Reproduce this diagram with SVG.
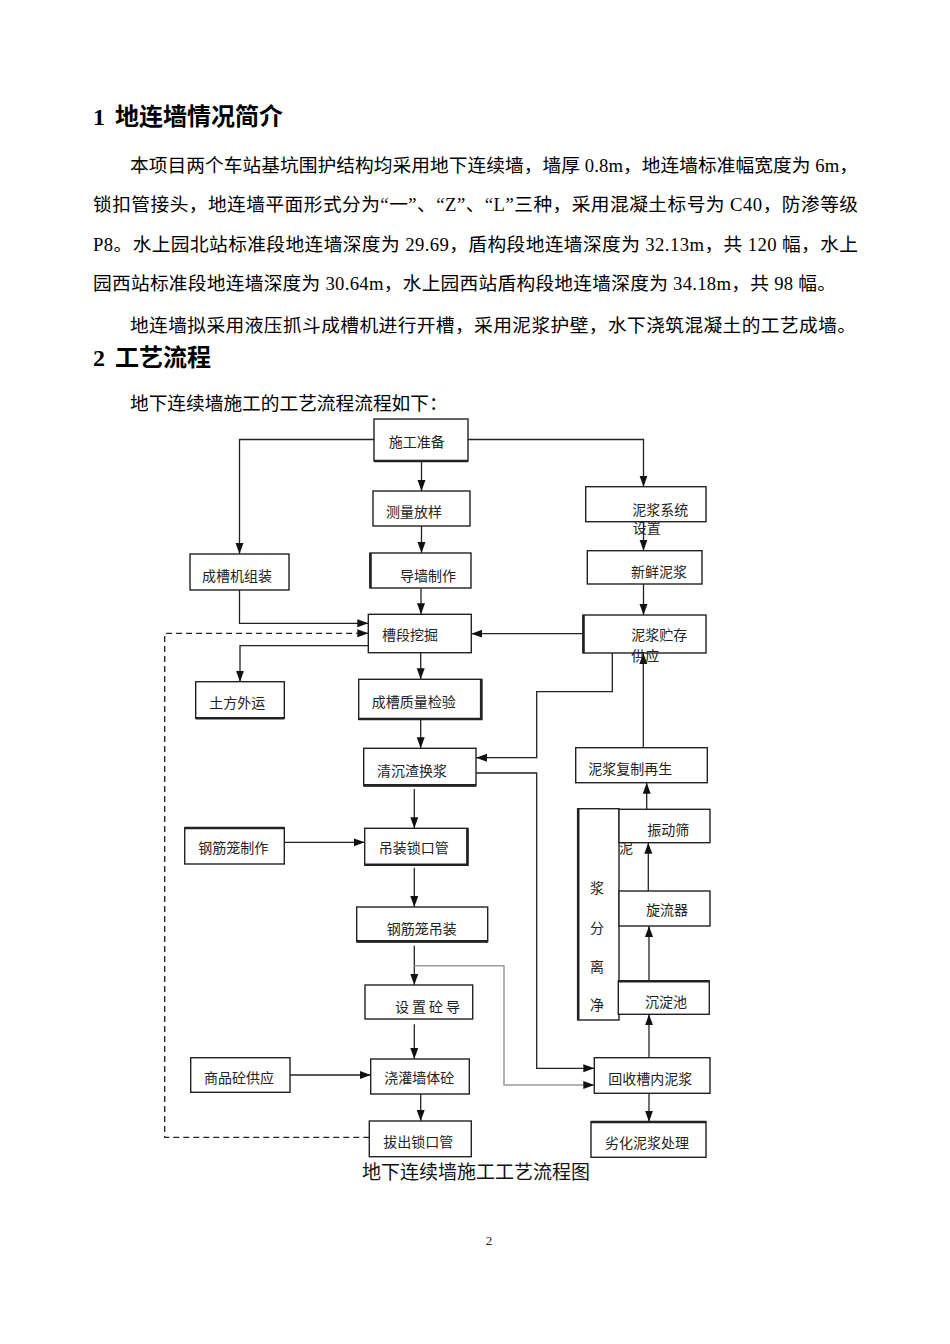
<svg xmlns="http://www.w3.org/2000/svg" width="950" height="1344" viewBox="0 0 950 1344">
<style>
.body{font-family:"Liberation Serif","Noto Sans CJK SC",serif;font-size:18.7px;fill:#000}
.h{font-family:"Noto Sans CJK SC",sans-serif;font-size:24px;font-weight:bold;fill:#000}
.hn{font-family:"Liberation Serif",serif;font-size:24px;font-weight:bold;fill:#000}
.box{fill:#fff;stroke:#222;stroke-width:1.4}
.thick{stroke:#222;stroke-width:2.6;fill:none}
.t{font-family:"Liberation Serif","Noto Sans CJK SC",serif;font-size:14px;fill:#222}
.ln{fill:none;stroke:#222;stroke-width:1.3}
.gray{fill:none;stroke:#999;stroke-width:1.5}
.dash{fill:none;stroke:#222;stroke-width:1.3;stroke-dasharray:6,4}
</style>
<defs>
<marker id="ah" markerUnits="userSpaceOnUse" markerWidth="12" markerHeight="10" refX="11" refY="4" orient="auto">
<path d="M0,0 L11,4 L0,8 Z" fill="#111"/>
</marker>
</defs>
<rect width="950" height="1344" fill="#fff"/>

<g id="text">
<text x="93" y="125" class="hn">1</text>
<text x="115" y="125" class="h">地连墙情况简介</text>
<text x="130" y="171.5" class="body" textLength="728" lengthAdjust="spacing">本项目两个车站基坑围护结构均采用地下连续墙，墙厚 0.8m，地连墙标准幅宽度为 6m，</text>
<text x="93" y="211" class="body" textLength="765" lengthAdjust="spacing">锁扣管接头，地连墙平面形式分为“一”、“Z”、“L”三种，采用混凝土标号为  C40，防渗等级</text>
<text x="93" y="250.5" class="body" textLength="765" lengthAdjust="spacing">P8。水上园北站标准段地连墙深度为 29.69，盾构段地连墙深度为 32.13m，共 120 幅，水上</text>
<text x="93" y="290" class="body" textLength="743" lengthAdjust="spacing">园西站标准段地连墙深度为 30.64m，水上园西站盾构段地连墙深度为 34.18m，共 98 幅。</text>
<text x="130" y="331.5" class="body" textLength="726" lengthAdjust="spacing">地连墙拟采用液压抓斗成槽机进行开槽，采用泥浆护壁，水下浇筑混凝土的工艺成墙。</text>
<text x="93" y="366" class="hn">2</text>
<text x="115" y="366" class="h">工艺流程</text>
<text x="130" y="410" class="body">地下连续墙施工的工艺流程流程如下：</text>
</g>

<g id="connectors">
<polyline class="ln" points="374,439.5 239.5,439.5 239.5,554" marker-end="url(#ah)"/>
<line class="ln" x1="421.5" y1="461" x2="421.5" y2="491" marker-end="url(#ah)"/>
<polyline class="ln" points="468,439.5 643.5,439.5 643.5,486.7" marker-end="url(#ah)"/>
<line class="ln" x1="421.5" y1="526" x2="421.5" y2="553" marker-end="url(#ah)"/>
<line class="ln" x1="421" y1="588.5" x2="421" y2="614.3" marker-end="url(#ah)"/>
<polyline class="ln" points="239.5,590 239.5,623.3 368.3,623.3" marker-end="url(#ah)"/>
<polyline class="dash" points="369.3,1137.3 164.7,1137.3 164.7,633.3 368.3,633.3" marker-end="url(#ah)"/>
<line class="ln" x1="643.5" y1="521.7" x2="643.5" y2="550.7" marker-end="url(#ah)"/>
<line class="ln" x1="643.5" y1="584" x2="643.5" y2="615" marker-end="url(#ah)"/>
<line class="ln" x1="583" y1="633.7" x2="471.3" y2="633.7" marker-end="url(#ah)"/>
<polyline class="ln" points="368.3,645.7 240,645.7 240,681.7" marker-end="url(#ah)"/>
<line class="ln" x1="420.7" y1="652.7" x2="420.7" y2="679.3" marker-end="url(#ah)"/>
<line class="ln" x1="420.7" y1="719.3" x2="420.7" y2="748.3" marker-end="url(#ah)"/>
<polyline class="ln" points="612.3,653 612.3,691.7 536.7,691.7 536.7,757.7 476,757.7" marker-end="url(#ah)"/>
<polyline class="ln" points="476,773 536.7,773 536.7,1068.3 594.3,1068.3" marker-end="url(#ah)"/>
<line class="ln" x1="414.3" y1="789" x2="414.3" y2="828.3" marker-end="url(#ah)"/>
<line class="ln" x1="284.3" y1="842.3" x2="364.7" y2="842.3" marker-end="url(#ah)"/>
<line class="ln" x1="414.3" y1="867.7" x2="414.3" y2="907" marker-end="url(#ah)"/>
<line class="ln" x1="414.3" y1="945.7" x2="414.3" y2="985" marker-end="url(#ah)"/>
<polyline class="gray" points="414.3,965.7 504,965.7 504,1085 594.3,1085" marker-end="url(#ah)"/>
<line class="ln" x1="414.3" y1="1024.3" x2="414.3" y2="1059" marker-end="url(#ah)"/>
<line class="ln" x1="290" y1="1075" x2="370.7" y2="1075" marker-end="url(#ah)"/>
<line class="ln" x1="420.7" y1="1094" x2="420.7" y2="1121" marker-end="url(#ah)"/>
<line class="ln" x1="649" y1="1057.7" x2="649" y2="1014.3" marker-end="url(#ah)"/>
<line class="ln" x1="649" y1="981" x2="649" y2="926" marker-end="url(#ah)"/>
<line class="ln" x1="648.3" y1="891" x2="648.3" y2="842.7" marker-end="url(#ah)"/>
<line class="ln" x1="646.7" y1="809.3" x2="646.7" y2="782.7" marker-end="url(#ah)"/>
<line class="ln" x1="643.3" y1="747.7" x2="643.3" y2="653" marker-end="url(#ah)"/>
<line class="ln" x1="649" y1="1093.3" x2="649" y2="1121.7" marker-end="url(#ah)"/>
</g>

<g id="n-prep"><rect class="box" x="374" y="419" width="94" height="42"/><line class="thick" x1="374" y1="461" x2="468" y2="461"/><text class="t" x="388.7" y="446.7">施工准备</text></g>
<g id="n-survey"><rect class="box" x="373" y="491" width="97" height="35"/><text class="t" x="386" y="517">测量放样</text></g>
<g id="n-guide"><rect class="box" x="370" y="553" width="101" height="35"/><line class="thick" x1="370.5" y1="553" x2="370.5" y2="588"/><text class="t" x="400" y="580.7">导墙制作</text></g>
<g id="n-machine"><rect class="box" x="190" y="554" width="99" height="36"/><text class="t" x="202" y="580.7">成槽机组装</text></g>
<g id="n-slurrysys"><rect class="box" x="585.7" y="486.7" width="120.3" height="35"/><text class="t" x="632.3" y="515">泥浆系统</text><text class="t" x="632.7" y="533.3">设置</text></g>
<g id="n-fresh"><rect class="box" x="587.3" y="550.7" width="114.7" height="33.3"/><text class="t" x="631" y="576.7">新鲜泥浆</text></g>
<g id="n-dig"><rect class="box" x="368.3" y="614.3" width="103" height="38.4"/><text class="t" x="382" y="640">槽段挖掘</text></g>
<g id="n-storage"><rect class="box" x="583" y="615" width="123" height="38"/><line class="thick" x1="583.5" y1="615" x2="583.5" y2="653"/><text class="t" x="631.3" y="640">泥浆贮存</text><text class="t" x="631.3" y="660.7">供应</text></g>
<g id="n-earth"><rect class="box" x="195.7" y="681.7" width="88.6" height="36.6"/><line class="thick" x1="195.7" y1="718.3" x2="284.3" y2="718.3"/><text class="t" x="209.3" y="707.7">土方外运</text></g>
<g id="n-check"><rect class="box" x="358.7" y="679.3" width="123" height="40"/><polyline class="thick" points="481.2,679.3 481.2,719 358.7,719"/><text class="t" x="371.7" y="706.7">成槽质量检验</text></g>
<g id="n-clean"><rect class="box" x="363.7" y="748.3" width="112.3" height="37.4"/><line class="thick" x1="363.7" y1="785.4" x2="476" y2="785.4"/><text class="t" x="377" y="775.7">清沉渣换浆</text></g>
<g id="n-regen"><rect class="box" x="575.7" y="747.7" width="131.6" height="35"/><text class="t" x="588.3" y="774">泥浆复制再生</text></g>
<g id="n-cagemake"><rect class="box" x="184.7" y="827.7" width="99.6" height="36.3"/><line class="thick" x1="184.7" y1="828" x2="284.3" y2="828"/><text class="t" x="198.3" y="853.3">钢筋笼制作</text></g>
<g id="n-lockpipe"><rect class="box" x="364.7" y="828.3" width="103" height="36.7"/><polyline class="thick" points="364.7,864.7 467.4,864.7 467.4,828.3"/><text class="t" x="378.7" y="853.3">吊装锁口管</text></g>
<g id="n-separate"><rect class="box" x="577.7" y="808.7" width="41.3" height="211.3"/><line class="thick" x1="578.2" y1="808.7" x2="578.2" y2="1020"/><text class="t" x="626" y="852.7" text-anchor="middle">泥</text><text class="t" x="597" y="892.7" text-anchor="middle">浆</text><text class="t" x="597" y="933.3" text-anchor="middle">分</text><text class="t" x="597" y="971.7" text-anchor="middle">离</text><text class="t" x="597" y="1010" text-anchor="middle">净</text></g>
<g id="n-screen"><rect class="box" x="619" y="809.3" width="91" height="33.4"/><text class="t" x="647.3" y="835">振动筛</text></g>
<g id="n-cyclone"><rect class="box" x="619" y="891" width="91" height="35"/><text class="t" x="646" y="915">旋流器</text></g>
<g id="n-cagelift"><rect class="box" x="356.7" y="907" width="131" height="34.7"/><line class="thick" x1="356.7" y1="941.4" x2="487.7" y2="941.4"/><text class="t" x="386.7" y="934">钢筋笼吊装</text></g>
<g id="n-settle"><rect class="box" x="618.3" y="981" width="91" height="33.3"/><line class="thick" x1="618.3" y1="981.3" x2="709.3" y2="981.3"/><text class="t" x="645" y="1006.7">沉淀池</text></g>
<g id="n-tremie"><rect class="box" x="365" y="985" width="107.7" height="34"/><text class="t" x="395" y="1011.7" textLength="65" lengthAdjust="spacing">设 置 砼 导</text></g>
<g id="n-concrete"><rect class="box" x="190.7" y="1057.7" width="99.3" height="34.6"/><text class="t" x="204" y="1083.3">商品砼供应</text></g>
<g id="n-pour"><rect class="box" x="370.7" y="1059" width="98.6" height="35"/><text class="t" x="384.3" y="1083.3">浇灌墙体砼</text></g>
<g id="n-recover"><rect class="box" x="594.3" y="1057.7" width="115.7" height="35.6"/><text class="t" x="608.3" y="1084">回收槽内泥浆</text></g>
<g id="n-pull"><rect class="box" x="369.3" y="1121" width="102" height="35.7"/><text class="t" x="383.3" y="1147.3">拔出锁口管</text></g>
<g id="n-waste"><rect class="box" x="591" y="1121.7" width="115" height="35.6"/><line class="thick" x1="591" y1="1122" x2="706" y2="1122"/><text class="t" x="605" y="1148.3">劣化泥浆处理</text></g>

<g id="caption">
<text x="362" y="1179" font-family="Liberation Serif,Noto Sans CJK SC,serif" font-size="19" fill="#111" textLength="228" lengthAdjust="spacing">地下连续墙施工工艺流程图</text>
<text x="489" y="1245" font-family="Liberation Serif,serif" font-size="13" fill="#222" text-anchor="middle">2</text>
</g>
</svg>
